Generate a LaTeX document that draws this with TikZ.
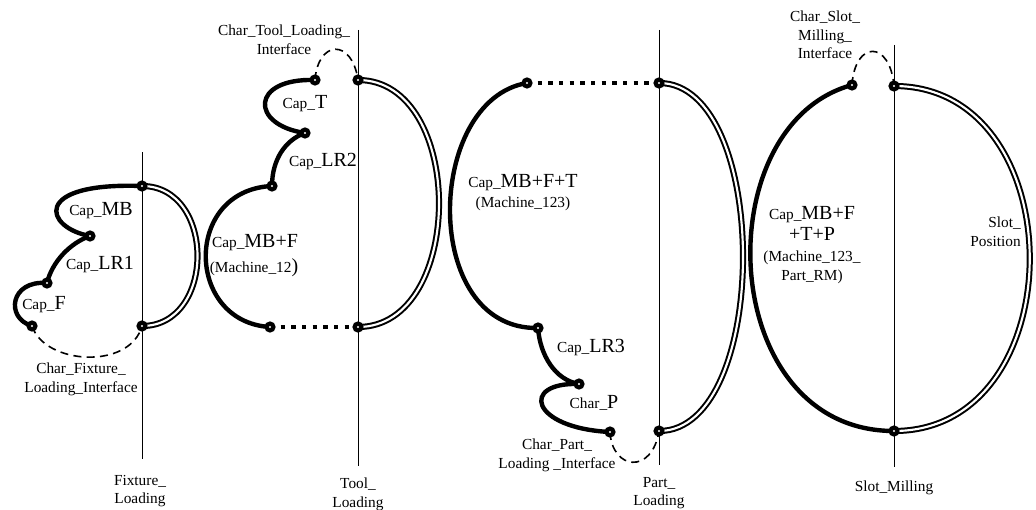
\documentclass[tikz,border=0pt]{standalone}
\usepackage{fontspec}
\setmainfont{Liberation Serif}
\pgfdeclarelayer{bg}
\pgfsetlayers{bg,main}
\newcommand{\sm}{\fontsize{11.5}{14}\selectfont}
\newcommand{\Lsz}{\fontsize{15}{14}\selectfont}
\begin{document}
\begin{tikzpicture}[x=0.75pt,y=-0.75pt,
  dot/.style={circle,fill=black,inner sep=0pt,minimum size=8.5pt,
    path picture={\fill[white] (path picture bounding box.center) circle (0.8pt);}},
  axisline/.style={line width=0.6pt},
  capline/.style={line width=3.3pt},
  dotline/.style={line width=3.3pt,dash pattern=on 3.3pt off 4.7pt},
  dashline/.style={line width=1.2pt,dash pattern=on 6pt off 4pt},
  dblline/.style={line width=1.5pt,double,double distance=1.6pt},
  lbl/.style={font=\sm,align=center,inner sep=0pt}]
\useasboundingbox (0,0) rectangle (1036,510);

% dots
\node[dot] (a1) at (142,186) {};
\node[dot] (a2) at (90,236) {};
\node[dot] (a3) at (47,283) {};
\node[dot] (a4) at (32,326) {};
\node[dot] (a5) at (142,326) {};
\node[dot] (b1) at (315,80) {};
\node[dot] (b2) at (358,80) {};
\node[dot] (b3) at (305,133) {};
\node[dot] (b4) at (272,186) {};
\node[dot] (b5) at (270,327) {};
\node[dot] (b6) at (358,327) {};
\node[dot] (c1) at (527,83) {};
\node[dot] (c2) at (659,83) {};
\node[dot] (c3) at (538,328) {};
\node[dot] (c4) at (579,384) {};
\node[dot] (c5) at (610,432) {};
\node[dot] (c6) at (659,431) {};
\node[dot] (d1) at (852,85) {};
\node[dot] (d2) at (894,86) {};
\node[dot] (d3) at (894,431) {};

% axis end points
\coordinate (fixT) at (142,152);
\coordinate (fixB) at (142,459);
\coordinate (toolT) at (358,30);
\coordinate (toolB) at (358,466);
\coordinate (partT) at (659,30);
\coordinate (partB) at (659,465);
\coordinate (slotT) at (894,45);
\coordinate (slotB) at (894,467);

\begin{pgfonlayer}{bg}
\draw[axisline] (fixT) -- (fixB);
\draw[axisline] (toolT) -- (toolB);
\draw[axisline] (partT) -- (partB);
\draw[axisline] (slotT) -- (slotB);
% fixture
\draw[capline] (a1.center) .. controls (30,182) and (45,228) .. (a2.center);
\draw[capline] (a2.center) .. controls (70,243) and (52,262) .. (a3.center);
\draw[capline] (a3.center) .. controls (10,280) and (5,318) .. (a4.center);
\draw[dashline] (a4.center) .. controls (45,365) and (130,370) .. (a5.center);
\draw[dblline] (a1.center) .. controls (216,186) and (216,326) .. (a5.center);
% tool
\draw[capline] (b1.center) .. controls (250,78) and (250,125) .. (b3.center);
\draw[capline] (b3.center) .. controls (285,140) and (272,160) .. (b4.center);
\draw[capline] (b4.center) .. controls (183,190) and (185,322) .. (b5.center);
\draw[dotline] (b5.center) -- (b6.center);
\draw[dashline] (b1.center) .. controls (318,40) and (352,38) .. (b2.center);
\draw[dblline] (b2.center) .. controls (466,80) and (466,327) .. (b6.center);
% part
\draw[capline] (c1.center) .. controls (425,100) and (420,330) .. (c3.center);
\draw[capline] (c3.center) .. controls (540,355) and (555,380) .. (c4.center);
\draw[capline] (c4.center) .. controls (520,382) and (530,428) .. (c5.center);
\draw[dotline] (c1.center) -- (c2.center);
\draw[dashline] (c5.center) .. controls (612,470) and (652,475) .. (c6.center);
\draw[dblline] (c2.center) .. controls (771,83) and (771,431) .. (c6.center);
% slot
\draw[capline] (d1.center) .. controls (705,125) and (716,431) .. (d3.center);
\draw[dashline] (d1.center) .. controls (855,40) and (890,40) .. (d2.center);
\draw[dblline] (d2.center) .. controls (1075,86) and (1075,431) .. (d3.center);
\end{pgfonlayer}

% labels
\node[lbl] (lMB) at (101,211) {Cap\_{\Lsz MB}};
\node[lbl] (lLR1) at (100,265) {Cap\_{\Lsz LR1}};
\node[lbl] (lF) at (44,305) {Cap\_{\Lsz F}};
\node[lbl] (lFLI) at (81,379) {Char\_Fixture\_\\Loading\_Interface};
\node[lbl] (lFL) at (140,491) {Fixture\_\\Loading};

\node[lbl] (lTLI) at (284,40) {Char\_Tool\_Loading\_\\Interface};
\node[lbl] (lT) at (305,104) {Cap\_{\Lsz T}};
\node[lbl] (lLR2) at (323,162) {Cap\_{\Lsz LR2}};
\node[lbl] (lMBF) at (255,243) {Cap\_{\Lsz MB+F}};
\node[lbl] (lM12) at (254,268) {(Machine\_12{\Lsz )}};
\node[lbl] (lTL) at (358,494) {Tool\_\\Loading};

\node[lbl] (lMBFT) at (523,183) {Cap\_{\Lsz MB+F+T}};
\node[lbl] (lM123) at (523,204) {(Machine\_123)};
\node[lbl] (lLR3) at (591,348) {Cap\_{\Lsz LR3}};
\node[lbl] (lP) at (594,403) {Char\_{\Lsz P}};
\node[lbl] (lPLI) at (557,455) {Char\_Part\_\\Loading \_Interface};
\node[lbl] (lPL) at (659,493) {Part\_\\Loading};

\node[lbl] (lSMI) at (825,35) {Char\_Slot\_\\Milling\_\\Interface};
\node[lbl] (lMBFTP) at (812,215) {Cap\_{\Lsz MB+F}};
\node[lbl] (lTP) at (812,234) {{\Lsz +T+P}};
\node[lbl] (lM123RM) at (812,267) {(Machine\_123\_\\Part\_RM)};
\node[lbl,align=right,anchor=east] (lSP) at (1021,232) {Slot\_\\Position};
\node[lbl] (lSM) at (894,488) {Slot\_Milling};
\end{tikzpicture}
\end{document}
